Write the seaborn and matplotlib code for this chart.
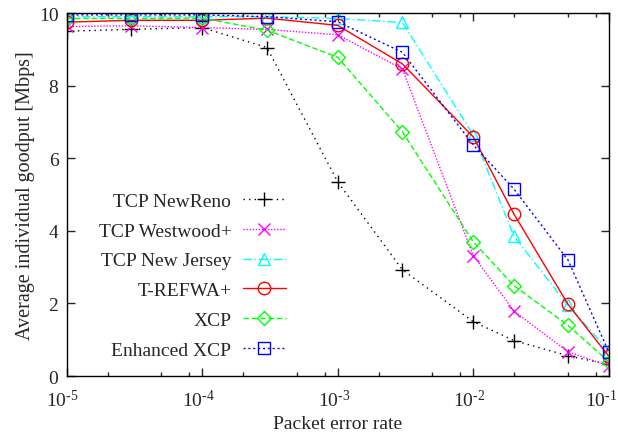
import numpy as np
import pandas as pd
import seaborn as sns
import matplotlib
matplotlib.use("Agg")
import matplotlib.pyplot as plt
import matplotlib.transforms as mtransforms
from matplotlib.ticker import LogLocator, FixedLocator, NullFormatter, FixedFormatter

# packet error rates on the x axis
per = [1e-5, 3e-5, 1e-4, 3e-4, 1e-3, 3e-3, 1e-2, 2e-2, 5e-2, 1e-1]

newreno = [9.50, 9.55, 9.60, 9.05, 5.35, 2.93, 1.50, 0.98, 0.56, 0.32]
westwood = [9.63, 9.65, 9.60, 9.55, 9.40, 8.46, 3.32, 1.79, 0.67, 0.28]
newjersey = [9.90, 9.90, 9.90, 9.90, 9.85, 9.74, 6.65, 3.85, 1.95, 0.70]
trefwa = [9.75, 9.80, 9.80, 9.86, 9.66, 8.60, 6.59, 4.46, 1.98, 0.55]
xcp = [9.85, 9.85, 9.86, 9.53, 8.78, 6.73, 3.70, 2.49, 1.40, 0.40]
enh_xcp = [9.95, 9.95, 9.95, 9.90, 9.76, 8.92, 6.37, 5.15, 3.20, 0.67]

labels = ["TCP NewReno", "TCP Westwood+", "TCP New Jersey", "T-REFWA+", "XCP", "Enhanced XCP"]
series = [newreno, westwood, newjersey, trefwa, xcp, enh_xcp]
colors = ["black", "#ff00ff", "#00ffff", "#ff0000", "#00ff00", "#0000ff"]
markers = ["+", "x", "^", "o", "D", "s"]
msizes = [10, 9, 9, 9, 7, 8]
lstyles = [(0, (1, 3)), (0, (1, 1.2)), (0, (6, 2, 1, 2)), "-", (0, (4, 2)), (0, (1.5, 2))]

x_ticks = [1e-5, 1e-4, 1e-3, 1e-2, 1e-1]
x_ticklabels = [r"$10^{\text{-}5}$", r"$10^{\text{-}4}$", r"$10^{\text{-}3}$",
                r"$10^{\text{-}2}$", r"$10^{\text{-}1}$"]

sns.set_style("ticks")
plt.rcParams["font.family"] = ["Liberation Serif", "DejaVu Serif"]
plt.rcParams["mathtext.fontset"] = "custom"
plt.rcParams["mathtext.rm"] = "Liberation Serif"
plt.rcParams["mathtext.it"] = "Liberation Serif:italic"
plt.rcParams["font.size"] = 14

fig = plt.figure(figsize=(6.18, 4.39), dpi=100)
ax = fig.add_axes([0.108, 0.141, 0.877, 0.827])

for lab, vals, c, m, ms, ls in zip(labels, series, colors, markers, msizes, lstyles):
    df = pd.DataFrame({"per": per, "goodput": vals})
    sns.lineplot(data=df, x="per", y="goodput", ax=ax, color=c, marker=m,
                 markersize=ms, markerfacecolor="none", markeredgecolor=c,
                 markeredgewidth=1.0, linestyle=ls, linewidth=1.0, label=lab)

ax.set_xscale("log")
ax.set_xlim(1e-5, 1e-1)
ax.set_ylim(0, 10)
ax.xaxis.set_major_locator(FixedLocator(x_ticks))
ax.xaxis.set_major_formatter(FixedFormatter(x_ticklabels))
ax.xaxis.set_minor_locator(LogLocator(base=10, subs=[2, 5, 8], numticks=10))
ax.xaxis.set_minor_formatter(NullFormatter())
ax.yaxis.set_major_locator(FixedLocator([0, 2, 4, 6, 8, 10]))
ax.tick_params(which="both", direction="in", top=True, right=True, labelsize=14)
ax.tick_params(axis="x", pad=9)
ax.tick_params(axis="y", pad=6)
ax.tick_params(which="major", length=6, width=1)
ax.tick_params(which="minor", length=3, width=1)
for s in ax.spines.values():
    s.set_linewidth(1.0)
    s.set_color("black")

# nudge x tick labels a little left, as in the original (last one a bit more)
xlabels = ax.get_xticklabels()
for i, t in enumerate(xlabels):
    dx = -8 if i == len(xlabels) - 1 else -4
    shift = mtransforms.ScaledTranslation(dx / 100, 0, fig.dpi_scale_trans)
    t.set_transform(t.get_transform() + shift)

ax.set_xlabel("Packet error rate", fontsize=14, labelpad=4)
ax.set_ylabel("Average individual goodput [Mbps]", fontsize=14.5, labelpad=3)

leg = ax.legend(loc="upper right", bbox_to_anchor=(0.404, 0.507), frameon=False,
                markerfirst=False, borderaxespad=0, borderpad=0,
                labelspacing=0.63, handlelength=2.2, handletextpad=0.6, fontsize=14)
# right-align the entries like gnuplot does
for col in leg._legend_handle_box.get_children():
    col.align = "right"

fig.savefig("out.png", dpi=100)
